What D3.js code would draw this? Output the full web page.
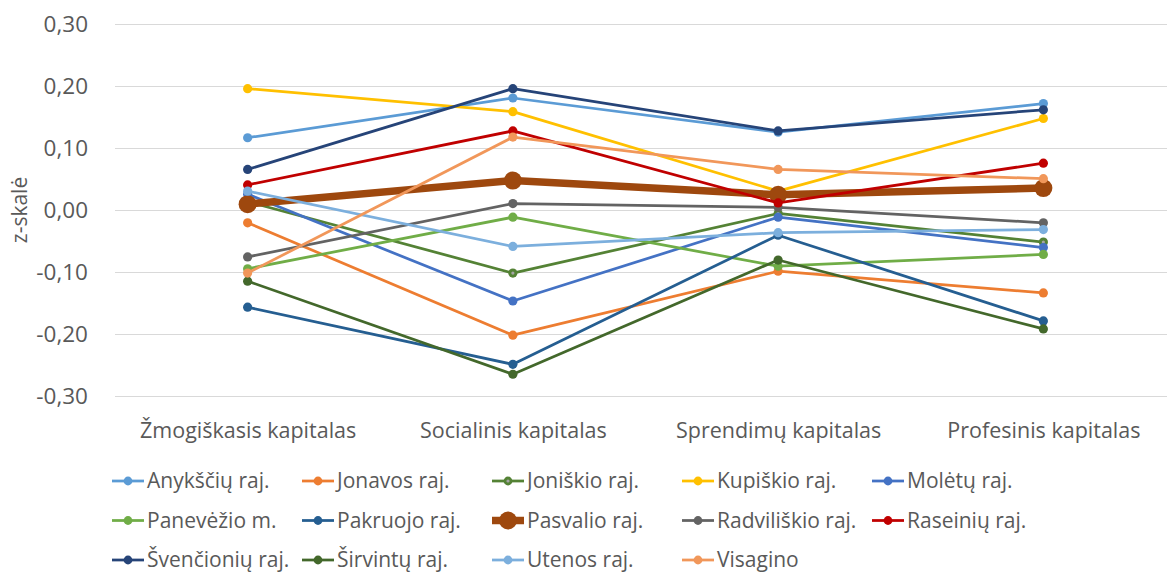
<!DOCTYPE html>
<html>
<head>
<meta charset="utf-8">
<script src="https://cdn.jsdelivr.net/npm/d3@7/dist/d3.min.js"></script>
<style>
  html, body { margin: 0; padding: 0; background: #fff; }
  svg { display: block; font-family: "Open Sans", "Noto Sans", sans-serif; }
</style>
</head>
<body>
<svg id="chart" width="1167" height="576"></svg>
<script>
const categories = ["Žmogiškasis kapitalas", "Socialinis kapitalas", "Sprendimų kapitalas", "Profesinis kapitalas"];
const yTicks = [-0.3, -0.2, -0.1, 0, 0.1, 0.2, 0.3];
const yTitle = "z-skalė";

const anyksciu    = [0.116, 0.180, 0.125, 0.171];
const jonavos     = [-0.021, -0.202, -0.099, -0.134];
const joniskio    = [0.013, -0.102, -0.006, -0.052];
const kupiskio    = [0.195, 0.158, 0.030, 0.147];
const moletu      = [0.025, -0.147, -0.012, -0.061];
const panevezio   = [-0.095, -0.012, -0.091, -0.072];
const pakruojo    = [-0.157, -0.249, -0.041, -0.179];
const pasvalio    = [0.009, 0.047, 0.024, 0.035];
const radviliskio = [-0.076, 0.010, 0.004, -0.021];
const raseiniu    = [0.040, 0.127, 0.011, 0.075];
const svencioniu  = [0.065, 0.195, 0.127, 0.161];
const sirvintu    = [-0.115, -0.265, -0.081, -0.192];
const utenos      = [0.030, -0.059, -0.037, -0.032];
const visagino    = [-0.102, 0.117, 0.065, 0.050];

const seriesNames = ["Anykščių raj.", "Jonavos raj.", "Joniškio raj.", "Kupiškio raj.", "Molėtų raj.",
  "Panevėžio m.", "Pakruojo raj.", "Pasvalio raj.", "Radviliškio raj.", "Raseinių raj.",
  "Švenčionių raj.", "Širvintų raj.", "Utenos raj.", "Visagino"];
const seriesValues = [anyksciu, jonavos, joniskio, kupiskio, moletu, panevezio, pakruojo, pasvalio,
  radviliskio, raseiniu, svencioniu, sirvintu, utenos, visagino];
const seriesColors = ["#5B9BD5", "#ED7D31", "#548235", "#FFC000", "#4472C4",
  "#70AD47", "#255E91", "#9E480E", "#636363", "#C00000",
  "#264478", "#43682B", "#7CAFDD", "#F1975A"];

const series = seriesNames.map((name, i) => ({
  name, values: seriesValues[i], color: seriesColors[i],
  bold: name === "Pasvalio raj.", ring: name === "Joniškio raj."
}));

const svg = d3.select("#chart");
const plotLeft = 115, plotRight = 1176, plotTop = 23.5, plotBottom = 396;

const x = d3.scalePoint().domain(categories).range([plotLeft, plotRight]).padding(0.5);
const y = d3.scaleLinear().domain([-0.3, 0.3]).range([plotBottom, plotTop]);

// gridlines
svg.append("g").selectAll("line").data(yTicks).join("line")
  .attr("x1", plotLeft).attr("x2", 1167)
  .attr("y1", d => Math.round(y(d)) + 0.5).attr("y2", d => Math.round(y(d)) + 0.5)
  .attr("stroke", "#D9D9D9").attr("stroke-width", 1);

// y axis labels
const yAxis = d3.axisLeft(y).tickValues(yTicks).tickSize(0).tickPadding(0)
  .tickFormat(d => d3.format(".2f")(d).replace("−", "-").replace(".", ","));
const ya = svg.append("g").attr("transform", "translate(88,0)").call(yAxis);
ya.select(".domain").remove();
ya.selectAll("text").attr("fill", "#595959").style("font-size", "22.5px")
  .style("font-family", "'Open Sans', sans-serif").attr("dy", "0.35em");

// x axis labels
const xAxis = d3.axisBottom(x).tickSize(0).tickPadding(0);
const xa = svg.append("g").attr("transform", "translate(0,430)").call(xAxis);
xa.select(".domain").remove();
xa.selectAll("text").attr("fill", "#595959").style("font-size", "21.5px")
  .style("font-family", "'Open Sans', sans-serif").attr("y", 0).attr("dy", "0.35em");

// y title
svg.append("text").attr("transform", "translate(20,210) rotate(-90)")
  .attr("text-anchor", "middle").attr("dy", "0.35em").attr("fill", "#595959")
  .style("font-size", "21px").text(yTitle);

// lines
const line = d3.line().x((d, i) => x(categories[i])).y(d => y(d));
const g = svg.append("g");
series.forEach(s => {
  const sg = g.append("g");
  sg.append("path").attr("d", line(s.values)).attr("fill", "none")
    .attr("stroke", s.color).attr("stroke-width", s.bold ? 7.5 : 2.75)
    .attr("stroke-linejoin", "round").attr("stroke-linecap", "round");
  sg.selectAll("circle.m").data(s.values).join("circle").attr("class", "m")
    .attr("cx", (d, i) => x(categories[i])).attr("cy", d => y(d))
    .attr("r", s.bold ? 9 : 4.6).attr("fill", s.color);
  if (s.ring) {
    sg.selectAll("circle.c").data(s.values).join("circle").attr("class", "c")
      .attr("cx", (d, i) => x(categories[i])).attr("cy", d => y(d))
      .attr("r", 1.6).attr("fill", "#A5A5A5");
  }
});

// legend
const colW = 190, rowH = 39.5, legX = 112, legY = 481;
const leg = svg.append("g");
series.forEach((s, i) => {
  const col = i % 5, row = Math.floor(i / 5);
  const lx = legX + col * colW, ly = legY + row * rowH;
  const lg = leg.append("g").attr("transform", `translate(${lx},${ly})`);
  lg.append("line").attr("x1", 0).attr("x2", 32).attr("y1", 0).attr("y2", 0)
    .attr("stroke", s.color).attr("stroke-width", s.bold ? 7.5 : 2.75);
  lg.append("circle").attr("cx", 16).attr("cy", 0).attr("r", s.bold ? 9 : 4.4).attr("fill", s.color);
  if (s.ring) lg.append("circle").attr("cx", 16).attr("cy", 0).attr("r", 1.6).attr("fill", "#A5A5A5");
  lg.append("text").attr("x", 35).attr("y", 0).attr("dy", "0.35em")
    .attr("fill", "#595959").style("font-size", "21px").text(s.name);
});
</script>
</body>
</html>
